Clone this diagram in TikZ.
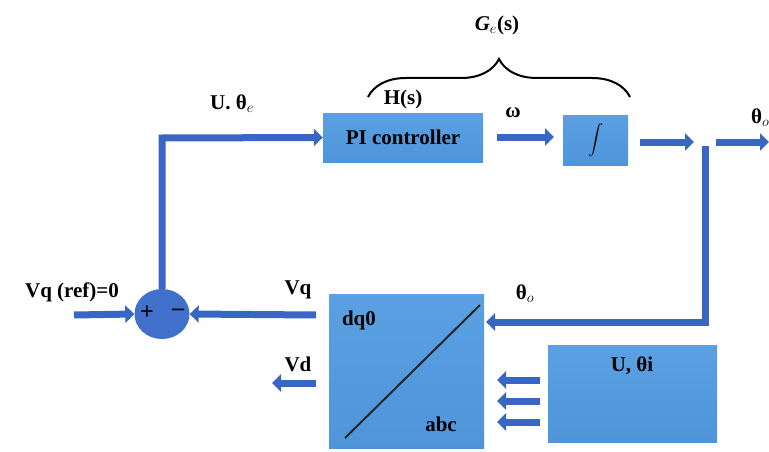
\documentclass[tikz,border=0pt]{standalone}
\usepackage{fontspec}
\setmainfont{Liberation Serif}
\usetikzlibrary{arrows.meta,decorations.pathreplacing,calc,shapes.geometric}
\definecolor{boxblue}{HTML}{4E95DA}
\definecolor{boxtop}{HTML}{5AA0E2}
\definecolor{arrblue}{HTML}{3866C2}
\definecolor{sumblue}{HTML}{4170CC}
\tikzset{
  blk/.style={draw=none, top color=boxtop, bottom color=boxblue, inner sep=0pt},
  flow/.style={draw=arrblue, line width=7pt, line join=miter,
     -{Triangle[length=9pt,width=17pt]}},
  lbl/.style={font=\fontsize{21}{23}\selectfont\bfseries, text=black, inner sep=1pt},
}
\begin{document}
\begin{tikzpicture}[x=1pt,y=-1pt]
\useasboundingbox (0,0) rectangle (769,452);
\fill[white] (0,0) rectangle (769,452);

% blocks
\node[blk, minimum width=160pt, minimum height=49pt] (pi) at (403,137.5) {};
\node[lbl] (pitext) at (pi.center) {PI controller};
\node[blk, minimum width=65pt, minimum height=50pt] (int) at (595.5,140) {};
\node[inner sep=0pt] (inttext) at (int.center) {\scalebox{1.5}{\fontsize{20}{22}\selectfont$\displaystyle\int$}};
\node[blk, minimum width=155pt, minimum height=154pt, anchor=north west] (dq) at (329,294) {};
\node[blk, minimum width=169pt, minimum height=97pt, anchor=north west] (ui) at (548,345) {};
\node[lbl] (uitext) at (632,366) {U, θi};
\node[lbl] (dq0) at (359,320) {dq0};
\node[lbl] (abc) at (441,424) {abc};
\coordinate (dga) at (345,438);
\coordinate (dgb) at (480,305);
\draw[line width=2pt, black!85] (dga) -- (dgb);

% summing junction
\node[ellipse, fill=sumblue, minimum width=55pt, minimum height=50pt, inner sep=0pt] (sum) at (162,314) {};
\node[font=\fontsize{24}{24}\selectfont\bfseries] (plus) at (147,313) {+};
\node[font=\fontsize{24}{24}\selectfont\bfseries] (minus) at (178,312) {\textendash};

% coordinates
\coordinate (refin) at (74,315);
\coordinate (corner) at (162,138);
\coordinate (omA) at (497,137);
\coordinate (omB) at (554,137);
\coordinate (intout) at (640,142);
\coordinate (jnin) at (694,142);
\coordinate (jntop) at (705,146);
\coordinate (jnbot) at (705,322);
\coordinate (thout) at (716,142);
\coordinate (thend) at (769,142);
\coordinate (vdstart) at (316,383);
\coordinate (vdend) at (272,383);
\coordinate (vqstart) at (316,315);
\coordinate (fbend) at (486,322);

% connectors
\draw[flow] (refin) -- (sum.west);
\draw[flow] (vqstart) -- (sum.east);
\draw[flow] (vdstart) -- (vdend);
\draw[flow] (sum.north) -- (corner) -- (pi.west);
\draw[flow] (omA) -- (omB);
\draw[flow] (intout) -- (jnin);
\draw[flow] (thout) -- (thend);
\draw[flow] (jntop) -- (jnbot) -- (fbend);
\foreach \i/\yy in {1/380,2/401,3/422}{
  \coordinate (s\i) at (540,\yy);
  \coordinate (e\i) at (497,\yy);
  \draw[flow] (s\i) -- (e\i);
}

% brace
\coordinate (bra) at (368,97);
\coordinate (brb) at (630,97);
\draw[line width=2pt, decorate, decoration={brace, amplitude=38pt, aspect=0.5}] (bra) -- (brb);

% labels
\node[lbl] (ge) at (497,25) {\itshape G$_e$\upshape(s)};
\node[lbl] (hs) at (403,99) {H(s)};
\node[lbl] (om) at (513,113) {ω};
\node[lbl, anchor=west] (tho) at (750,118) {θ$_o$};
\node[lbl] (ue) at (232,104) {U. θ$_e$};
\node[lbl] (vqref) at (72,292) {Vq (ref)=0};
\node[lbl] (vq) at (298,290) {Vq};
\node[lbl] (vd) at (298,364) {Vd};
\node[lbl] (tho2) at (525,294) {θ$_o$};
\end{tikzpicture}
\end{document}
